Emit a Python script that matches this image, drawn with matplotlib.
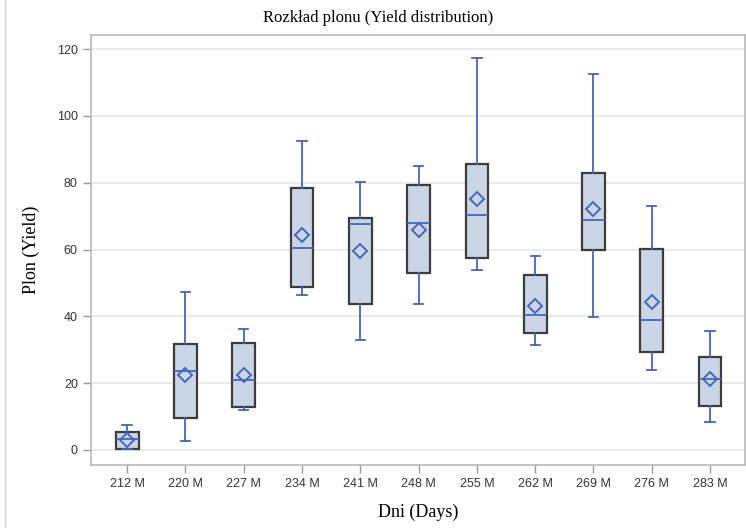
import matplotlib
matplotlib.use("Agg")
import matplotlib.pyplot as plt
from matplotlib.lines import Line2D

days = ["212 M", "220 M", "227 M", "234 M", "241 M", "248 M",
        "255 M", "262 M", "269 M", "276 M", "283 M"]
whisker_low = [0.2, 2.8, 11.9, 46.3, 33.0, 43.7, 54.0, 31.4, 39.8, 24.0, 8.4]
q1 = [0.4, 9.5, 12.8, 48.7, 43.7, 52.9, 57.6, 35.0, 60.0, 29.4, 13.1]
median = [3.2, 23.5, 21.0, 60.6, 67.7, 67.8, 70.4, 40.3, 68.9, 39.0, 21.3]
q3 = [5.4, 31.7, 32.1, 78.5, 69.5, 79.2, 85.5, 52.3, 82.8, 60.3, 27.9]
whisker_high = [7.4, 47.3, 36.1, 92.6, 80.2, 84.9, 117.2, 58.0, 112.6, 73.0, 35.7]
mean = [3.0, 22.4, 22.4, 64.4, 59.6, 65.9, 75.1, 43.1, 72.0, 44.4, 21.1]

blue = "#4466BB"
fill = "#CAD5E5"
edge = "#3C3C3C"

stats = []
for i in range(len(days)):
    stats.append({"whislo": whisker_low[i], "q1": q1[i], "med": median[i],
                  "q3": q3[i], "whishi": whisker_high[i], "mean": mean[i],
                  "fliers": []})

fig = plt.figure(figsize=(7.46, 5.28), dpi=100)
ax = fig.add_axes([0.122, 0.1193, 0.8767, 0.8144])

ax.bxp(stats, positions=range(1, len(days) + 1), widths=0.39,
       patch_artist=True, showmeans=True, capwidths=0.16,
       boxprops=dict(facecolor=fill, edgecolor=edge, linewidth=1.6),
       whiskerprops=dict(color=blue, linewidth=1.3),
       capprops=dict(color=blue, linewidth=1.3),
       medianprops=dict(color=blue, linewidth=1.3),
       meanprops=dict(marker="D", markerfacecolor="none",
                      markeredgecolor=blue, markersize=7.5,
                      markeredgewidth=1.4),
       zorder=3)

ax.set_xlim(0.38, 11.6)
ax.set_ylim(-4.5, 124.2)
ax.set_yticks(range(0, 121, 20))
ax.set_xticks(range(1, len(days) + 1))
ax.set_xticklabels(days)
ax.grid(axis="y", color="#E6E6E6", linewidth=1.1, zorder=0)
ax.set_axisbelow(True)

for s in ax.spines.values():
    s.set_color("#B8B8B8")
    s.set_linewidth(1.2)
ax.tick_params(axis="both", colors="#9A9A9A", length=6, width=1,
               labelcolor="#333333", labelsize=9)
for lab in ax.get_xticklabels() + ax.get_yticklabels():
    lab.set_family("Liberation Sans")

fig.text(0.507, 0.965, "Rozkład plonu (Yield distribution)", ha="center",
         va="center", family="Liberation Serif", fontsize=12)
ax.set_xlabel("Dni (Days)", family="Liberation Serif", fontsize=13,
              labelpad=10)
ax.set_ylabel("Plon (Yield)", family="Liberation Serif", fontsize=13,
              labelpad=12)

fig.add_artist(Line2D([0.007, 0.007], [0, 1], transform=fig.transFigure,
                      color="#D0D0D0", linewidth=1))

fig.savefig("out.png", dpi=100)
